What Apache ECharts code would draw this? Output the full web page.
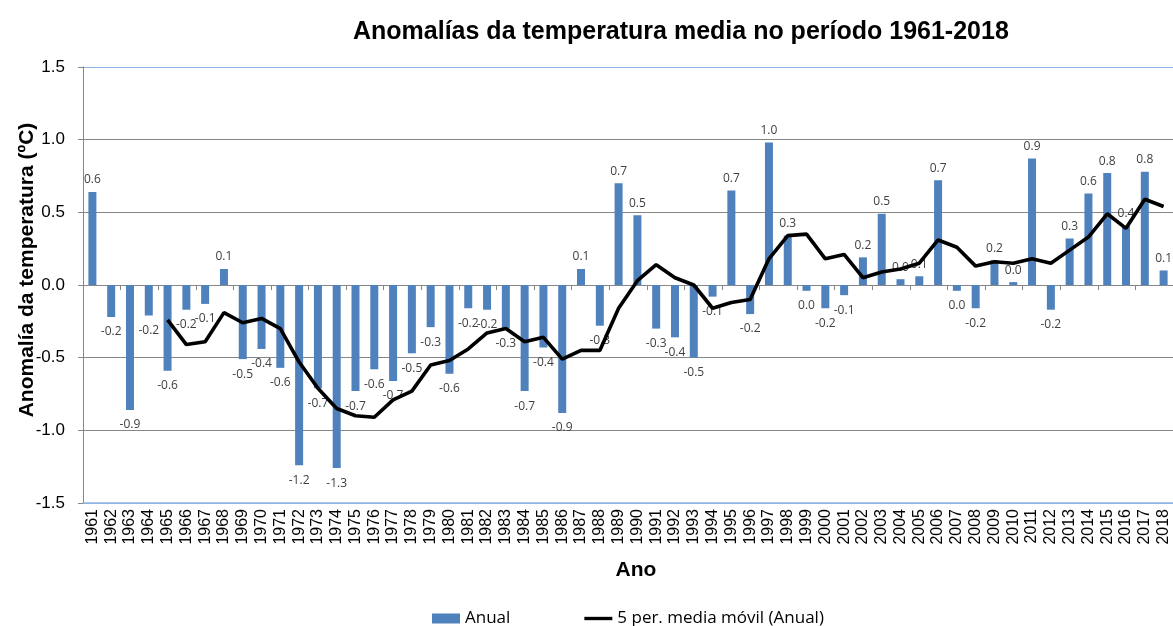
<!DOCTYPE html>
<html>
<head>
<meta charset="utf-8">
<script src="https://cdn.jsdelivr.net/npm/echarts@6/dist/echarts.min.js"></script>
<style>html,body{margin:0;padding:0;background:#fff}#c{width:1173px;height:626px}</style>
</head>
<body>
<div id="c"></div>
<script>
const years = ['1961','1962','1963','1964','1965','1966','1967','1968','1969','1970',
  '1971','1972','1973','1974','1975','1976','1977','1978','1979','1980',
  '1981','1982','1983','1984','1985','1986','1987','1988','1989','1990',
  '1991','1992','1993','1994','1995','1996','1997','1998','1999','2000',
  '2001','2002','2003','2004','2005','2006','2007','2008','2009','2010',
  '2011','2012','2013','2014','2015','2016','2017','2018'];

const anual = [0.64,-0.22,-0.86,-0.21,-0.59,-0.17,-0.13,0.11,-0.51,-0.44,
  -0.57,-1.24,-0.71,-1.26,-0.73,-0.58,-0.66,-0.47,-0.29,-0.61,
  -0.16,-0.17,-0.30,-0.73,-0.43,-0.88,0.11,-0.28,0.70,0.48,
  -0.30,-0.36,-0.50,-0.08,0.65,-0.20,0.98,0.34,-0.04,-0.16,
  -0.07,0.19,0.49,0.04,0.06,0.72,-0.04,-0.16,0.17,0.02,
  0.87,-0.17,0.32,0.63,0.77,0.41,0.78,0.10];

const mediaMovil = [null,null,null,null,-0.24,-0.41,-0.39,-0.19,-0.26,-0.23,
  -0.30,-0.53,-0.71,-0.85,-0.90,-0.91,-0.79,-0.73,-0.55,-0.52,
  -0.44,-0.33,-0.30,-0.39,-0.36,-0.51,-0.45,-0.45,-0.16,0.03,
  0.14,0.05,0.00,-0.16,-0.12,-0.10,0.18,0.34,0.35,0.18,
  0.21,0.05,0.09,0.11,0.15,0.31,0.26,0.13,0.16,0.15,
  0.18,0.15,0.24,0.33,0.49,0.39,0.59,0.54];

const yTicks = { min: -1.5, max: 1.5, interval: 0.5 };

const titleText = 'Anomalías da temperatura media no período 1961-2018';
const yName = 'Anomalía da temperatura (ºC)';
const xName = 'Ano';
const nameBar = 'Anual';
const nameLine = '5 per. media móvil (Anual)';

function fmt(v) {
  let s = v.toFixed(1);
  if (s === '-0.0') s = '0.0';
  return s;
}

const barData = anual.map(v => ({
  value: v,
  label: { position: v < 0 ? 'bottom' : 'top', distance: v < 0 ? 9 : 6 }
}));

const chart = echarts.init(document.getElementById('c'), null, { renderer: 'canvas' });
chart.setOption({
  animation: false,
  backgroundColor: '#ffffff',
  title: {
    text: titleText,
    left: 348, top: 15,
    textStyle: { fontFamily: 'Liberation Sans', fontWeight: 'bold', fontSize: 25, color: '#000' }
  },
  graphic: [{
    type: 'text',
    x: 27, y: 270,
    rotation: Math.PI / 2,
    style: {
      text: yName, textAlign: 'center', textVerticalAlign: 'middle',
      font: 'bold 21px "Liberation Sans"', fill: '#000'
    }
  }],
  legend: {
    left: 432, top: 610, padding: 0,
    itemWidth: 28, itemHeight: 10, itemGap: 74,
    textStyle: { fontFamily: 'Open Sans', fontSize: 17, color: '#000' },
    data: [
      { name: nameBar, icon: 'rect' },
      { name: nameLine, icon: 'path://M0 0H30V3.6H0Z', itemStyle: { color: '#000' } }
    ]
  },
  grid: { left: 83, right: 0, top: 67, bottom: 123, containLabel: false },
  xAxis: [{
    type: 'category', data: years, position: 'bottom',
    boundaryGap: true,
    axisLine: { onZero: false, lineStyle: { color: '#8eb4e3', width: 1.5 } },
    axisTick: { show: false },
    axisLabel: { rotate: 90, margin: 6, interval: 0, fontFamily: 'Liberation Sans', fontSize: 16, color: '#000' },
    name: xName, nameLocation: 'middle', nameGap: 57,
    nameTextStyle: { fontFamily: 'Liberation Sans', fontWeight: 'bold', fontSize: 21, color: '#000', padding: [0, 0, 0, 16] }
  }, {
    type: 'category', data: years, position: 'top',
    boundaryGap: true,
    axisLine: { onZero: true, lineStyle: { color: '#868686', width: 1 } },
    axisTick: { show: true, inside: true, length: 5, lineStyle: { color: '#868686' } },
    axisLabel: { show: false }
  }],
  yAxis: {
    type: 'value', min: yTicks.min, max: yTicks.max, interval: yTicks.interval,
    axisLine: { show: true, lineStyle: { color: '#868686' } },
    axisTick: { show: true, length: 5, lineStyle: { color: '#868686' } },
    axisLabel: { margin: 18, fontFamily: 'Liberation Sans', fontSize: 17, color: '#000', formatter: v => v.toFixed(1) },
    splitLine: { show: true, lineStyle: { color: ['#8eb4e3','#868686','#868686','#868686','#868686','#868686','#8eb4e3'], width: 1.2 } }
  },
  series: [{
    name: nameBar, type: 'bar', xAxisIndex: 0,
    data: barData, barWidth: 8,
    itemStyle: { color: '#4f81bd' },
    label: {
      show: true, formatter: p => fmt(p.value),
      fontFamily: 'Open Sans', fontSize: 12, color: '#404040'
    },
    z: 2
  }, {
    name: nameLine, type: 'line', xAxisIndex: 0,
    data: mediaMovil, symbol: 'none', connectNulls: false,
    lineStyle: { color: '#000', width: 3.6 },
    itemStyle: { color: '#000' },
    z: 3
  }]
});
</script>
</body>
</html>
